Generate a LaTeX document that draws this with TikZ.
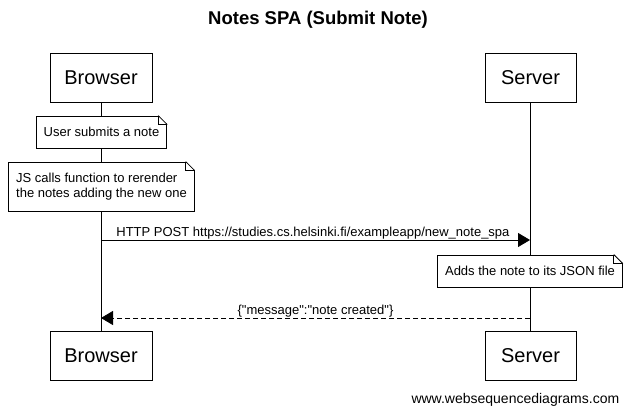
\documentclass[tikz,border=0pt]{standalone}
\usepackage{fontspec}
\setmainfont{Liberation Sans}
\newfontfamily\msgfont{Liberation Sans}
\usetikzlibrary{arrows.meta}

\tikzset{
	actor/.style={draw, fill=white, minimum width=102pt, minimum height=49pt, font=\fontsize{20}{24}\selectfont},
	note/.style={draw, fill=white, inner xsep=7.5pt, minimum height=32pt, align=left, font=\fontsize{13}{15.5}\selectfont},
	msg/.style={font=\msgfont\fontsize{13}{15.5}\selectfont, inner sep=0pt},
}

\begin{document}
\begin{tikzpicture}[x=1pt, y=-1pt, line width=0.8pt, >={Triangle[length=12pt,width=14pt]}]
		\useasboundingbox (0,0) rectangle (633,415);

		% Title
		\node[font=\fontsize{18.5}{22}\selectfont\bfseries] (title) at (318,20) {Notes SPA (Submit Note)};

		% Participants
		\node[actor] (B1) at (101,77.5) {Browser};
		\node[actor, minimum width=91pt] (S1) at (530.5,77.5) {Server};
		\node[actor] (B2) at (101,355.5) {Browser};
		\node[actor, minimum width=91pt] (S2) at (530.5,355.5) {Server};

		% Lifelines
		\draw (B1.south) -- (B2.north);
		\draw ([xshift=-0.5pt]S1.south) -- ([xshift=-0.5pt]S2.north);

		% Notes
		\node[note] (N1) at (101.5,132) {User submits a note};
		\node[note, minimum height=49pt] (N2) at (101.5,186.5) {JS calls function to rerender\\the notes adding the new one};
		\node[note] (N3) at (530,271) {Adds the note to its JSON file};

		\foreach \n in {N1,N2,N3} {
			\fill[white] ([xshift=0.5pt,yshift=0.5pt]\n.north east) -- ([xshift=-9pt,yshift=0.5pt]\n.north east) -- ([xshift=0.5pt,yshift=-9pt]\n.north east) -- cycle;
			\draw ([xshift=-9pt]\n.north east) -- ([yshift=-9pt]\n.north east);
			\draw ([xshift=-9pt]\n.north east) -- ([xshift=-9pt,yshift=-9pt]\n.north east) -- ([yshift=-9pt]\n.north east);
		}

		% Messages
		\coordinate (b1) at (101,240);
		\coordinate (s1) at (530,240);
		\coordinate (b2) at (101,318);
		\coordinate (s2) at (530,318);

		\draw[->] (b1) -- (s1) node[msg, pos=0, above right, xshift=15pt, yshift=0.5pt] {HTTP POST https://studies.cs.helsinki.fi/exampleapp/new\_note\_spa};
		\draw[->, dash pattern=on 5pt off 3pt] (s2) -- (b2) node[msg, midway, above, yshift=0.5pt] {\{"message":"note created"\}};

		% Footer
		\node[font=\fontsize{14}{17}\selectfont, anchor=east] (footer) at (623,400) {www.websequencediagrams.com};
	\end{tikzpicture}
\end{document}
